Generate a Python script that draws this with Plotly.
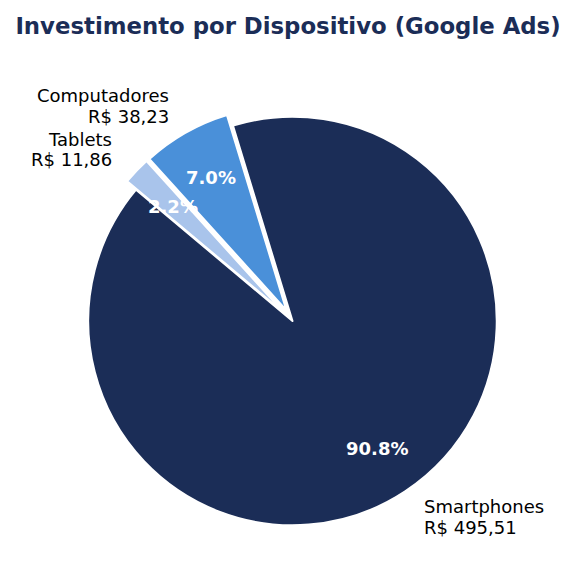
import math
import plotly.graph_objects as go

labels = ["Smartphones", "Computadores", "Tablets"]
values = [495.51, 38.23, 11.86]
value_labels = ["R$ 495,51", "R$ 38,23", "R$ 11,86"]
colors = ["#1B2D57", "#4A90D9", "#A9C4EB"]
pulls = [0.0, 0.06, 0.06]

W, H = 576, 585
ML, MR, MT, MB = 76, 67, 104, 47
pw, ph = W - ML - MR, H - MT - MB

START = 140.0  # degrees, counter-clockwise from +x (matplotlib style)
LABEL_DIST = 1.15
PCT_DIST = 0.75
LINE_PITCH = 20.5  # px between the two label lines

total = sum(values)
# plotly (counterclockwise) anchors the END of the first slice at `rotation`
first_end = START + 360 * values[0] / total
rotation = ((90 - first_end) + 180) % 360 - 180

fig = go.Figure(go.Pie(
    labels=labels, values=values, sort=False,
    direction="counterclockwise", rotation=rotation,
    marker=dict(colors=colors, line=dict(color="white", width=2)),
    pull=pulls, textinfo="none", hoverinfo="label+value+percent",
    showlegend=False, domain=dict(x=[0, 1], y=[0, 1]),
))

# geometry of pie in pixels (mirrors plotly's scaling)
R = min(pw, ph) / (2 + 2 * max(pulls))
cx, cy = ML + pw / 2, MT + ph / 2

def to_paper(px, py):
    return (px - ML) / pw, 1 - (py - MT) / ph

cum = 0.0
annotations = []
for lab, v, vl, p in zip(labels, values, value_labels, pulls):
    mid = math.radians(START + 360 * (cum + v / 2) / total)
    cum += v
    dx, dy = math.cos(mid), math.sin(mid)
    ox, oy = cx + p * R * dx, cy - p * R * dy
    # percent
    px, py = ox + PCT_DIST * R * dx, oy - PCT_DIST * R * dy
    x, y = to_paper(px, py)
    annotations.append(dict(x=x, y=y, xref="paper", yref="paper",
                            text=f"<b>{100 * v / total:.1f}%</b>", showarrow=False,
                            xanchor="center", yanchor="middle",
                            font=dict(family="DejaVu Sans", size=18, color="white")))
    # label (two lines, matplotlib-like spacing)
    lx, ly = ox + LABEL_DIST * R * dx, oy - LABEL_DIST * R * dy
    side = "left" if dx > 0 else "right"
    for txt, off in ((lab, -LINE_PITCH / 2), (vl, LINE_PITCH / 2)):
        x, y = to_paper(lx, ly + off)
        annotations.append(dict(x=x, y=y, xref="paper", yref="paper",
                                text=txt, showarrow=False,
                                xanchor=side, yanchor="middle", align=side,
                                font=dict(family="DejaVu Sans", size=18, color="black")))

fig.update_layout(
    width=W, height=H,
    margin=dict(l=ML, r=MR, t=MT, b=MB, autoexpand=False),
    paper_bgcolor="white", plot_bgcolor="white",
    title=dict(text="<b>Investimento por Dispositivo (Google Ads)</b>",
               x=0.5, xanchor="center", xref="container",
               y=1 - 26 / H, yref="container", yanchor="middle",
               font=dict(family="DejaVu Sans", size=22.8, color="#1B2D57")),
    annotations=annotations,
)

fig.write_html("out.html")
